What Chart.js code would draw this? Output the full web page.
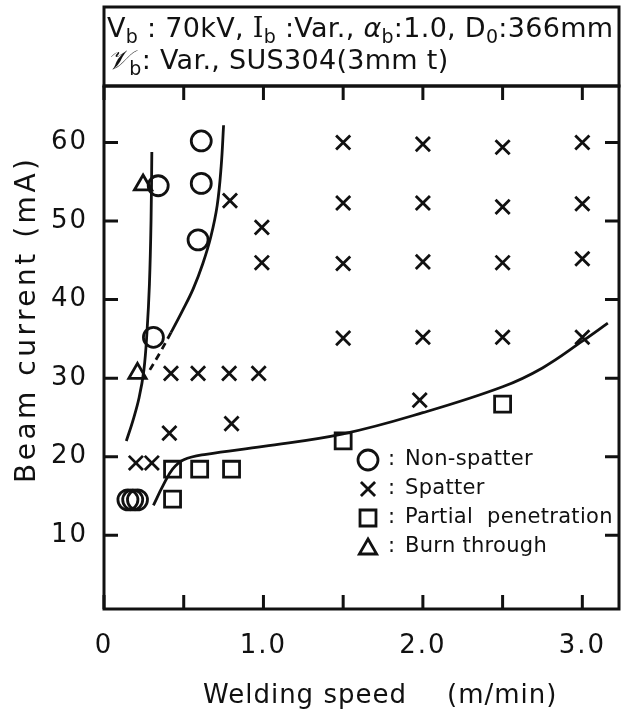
<!DOCTYPE html>
<html>
<head>
<meta charset="utf-8">
<script src="https://cdn.jsdelivr.net/npm/chart.js@4.4.1/dist/chart.umd.min.js"></script>
<style>
  html, body { margin: 0; background: #fff; overflow: hidden; }
  #wrap { width: 628px; height: 711px; }
  canvas { display: block; }
</style>
</head>
<body>
<div id="wrap"><canvas id="weldChart" width="628" height="711"></canvas></div>
<script>
// values (welding speed m/min, beam current mA)

const nonSpatterX = [0.61, 0.34, 0.61, 0.59, 0.31, 0.15, 0.18, 0.21];
const nonSpatterY = [60.2, 54.5, 54.8, 47.6, 35.2, 14.5, 14.5, 14.5];

const spatterX = [1.5, 2.0, 2.5, 3.0, 0.79, 1.5, 2.0, 2.5, 3.0, 0.99, 0.99, 1.5, 2.0, 2.5, 3.0,
                  1.5, 2.0, 2.5, 3.0, 0.42, 0.59, 0.785, 0.97, 1.98, 0.8, 0.41, 0.2, 0.3];
const spatterY = [60, 59.8, 59.4, 60, 52.6, 52.3, 52.3, 51.8, 52.2, 49.2, 44.7, 44.6, 44.8, 44.7, 45.2,
                  35.1, 35.2, 35.2, 35.2, 30.6, 30.6, 30.6, 30.6, 27.2, 24.2, 23.0, 19.2, 19.2];

const partialX = [0.43, 0.6, 0.8, 0.43, 1.5, 2.5];
const partialY = [18.4, 18.4, 18.4, 14.6, 22.0, 26.7];

const burnX = [0.245, 0.21];
const burnY = [54.6, 30.6];

// boundary curves drawn in the figure
const leftCurveX = [0.30, 0.295, 0.285, 0.27, 0.25, 0.22, 0.18, 0.14];
const leftCurveY = [58.8, 50, 42, 36, 31, 27.5, 24.5, 22];

const midCurveX = [0.75, 0.735, 0.71, 0.67, 0.62, 0.56, 0.49, 0.42, 0.35, 0.28];
const midCurveY = [62.2, 57, 52, 48, 44.6, 41.4, 38.5, 35.8, 33.2, 30.8];

const lowCurveX = [0.31, 0.37, 0.43, 0.5, 0.64, 1.0, 1.5, 2.0, 2.5, 2.75, 3.0, 3.16];
const lowCurveY = [13.8, 16.3, 18.4, 19.6, 20.3, 21.3, 22.9, 25.6, 28.9, 31.3, 34.7, 37.0];

const xTickValues = [0, 0.5, 1.0, 1.5, 2.0, 2.5, 3.0];
const xLabelValues = [0, 1, 2, 3];
const xTickLabels = ['0', '1.0', '2.0', '3.0'];
const yTickValues = [10, 20, 30, 40, 50, 60];

const legendNames = ['Non-spatter', 'Spatter', 'Partial  penetration', 'Burn through'];

const ink = '#111';
const FONT = '"DejaVu Sans", sans-serif';

const pairs = (xs, ys) => xs.map((x, i) => ({ x: x, y: ys[i] }));

const markerStyles = [
  { pointStyle: 'circle', pointRadius: 10 },
  { pointStyle: 'crossRot', pointRadius: 10 },
  { pointStyle: 'rect', pointRadius: 11.3 },
  { pointStyle: 'triangle', pointRadius: 10 }
];

function pointSet(xs, ys, k) {
  return {
    type: 'scatter',
    data: pairs(xs, ys),
    showLine: false,
    pointStyle: markerStyles[k].pointStyle,
    pointRadius: markerStyles[k].pointRadius,
    pointBorderWidth: 2.8,
    pointBorderColor: ink,
    pointBackgroundColor: 'rgba(0,0,0,0)'
  };
}

function curveSet(xs, ys, dashBelow) {
  return {
    type: 'line',
    data: pairs(xs, ys),
    showLine: true,
    pointRadius: 0,
    borderColor: ink,
    borderWidth: 2.8,
    tension: 0.4,
    fill: false,
    segment: {
      borderDash: ctx => (dashBelow && ctx.p0.parsed.y < dashBelow) ? [7, 5] : undefined
    }
  };
}

// draws text made of pieces, some as subscripts
function drawRich(ctx, x, y, pieces, size) {
  pieces.forEach(p => {
    let font = size + 'px ' + FONT;
    let dy = 0;
    if (p[1] === 'sub') { font = Math.round(size * 0.7) + 'px ' + FONT; dy = 6; }
    if (p[1] === 'serif') font = size + 'px "DejaVu Serif", serif';
    if (p[1] === 'italic') font = 'italic ' + size + 'px ' + FONT;
    ctx.font = font;
    ctx.fillText(p[0], x, y + dy);
    x += ctx.measureText(p[0]).width;
  });
}

const framePlugin = {
  id: 'frame',
  beforeDraw(chart) {
    chart.ctx.letterSpacing = '2px';
  },
  beforeDatasetsDraw(chart) {
    const { ctx, chartArea: a, scales } = chart;
    ctx.save();
    ctx.letterSpacing = '0px';
    ctx.strokeStyle = ink;
    ctx.lineWidth = 3;
    ctx.lineCap = 'butt';
    // plot frame + header box
    ctx.strokeRect(a.left, a.top, a.right - a.left, a.bottom - a.top);
    ctx.strokeRect(a.left, 7, a.right - a.left, a.top - 7);
    // inward ticks
    const tl = 14;
    ctx.beginPath();
    xTickValues.forEach(v => {
      const px = scales.x.getPixelForValue(v);
      ctx.moveTo(px, a.bottom); ctx.lineTo(px, a.bottom - tl);
      ctx.moveTo(px, a.top); ctx.lineTo(px, a.top + tl);
    });
    yTickValues.forEach(v => {
      const py = scales.y.getPixelForValue(v);
      ctx.moveTo(a.left, py); ctx.lineTo(a.left + tl, py);
      ctx.moveTo(a.right, py); ctx.lineTo(a.right - tl, py);
    });
    ctx.stroke();
    ctx.restore();
  },
  afterDraw(chart) {
    const { ctx } = chart;
    ctx.save();
    ctx.fillStyle = ink;
    ctx.textBaseline = 'alphabetic';
    ctx.textAlign = 'left';

    // header
    ctx.letterSpacing = '0.3px';
    drawRich(ctx, 107, 37, [['V'], ['b', 'sub'], [' : 70kV, '], ['I', 'serif'], ['b', 'sub'],
      [' :Var., '], ['α', 'italic'], ['b', 'sub'], [':1.0, '], ['D'], ['0', 'sub'], [':366mm']], 27);
    drawRich(ctx, 107, 69, [['𝒱', 'italic'], ['b', 'sub'], [': Var., SUS304(3mm t)']], 27);

    // axis titles
    ctx.letterSpacing = '1px';
    ctx.font = '26px ' + FONT;
    ctx.fillText('Welding speed', 203, 703);
    ctx.fillText('(m/min)', 447, 703);

    ctx.save();
    ctx.translate(35, 483);
    ctx.rotate(-Math.PI / 2);
    ctx.letterSpacing = '3.5px';
    ctx.font = '28px ' + FONT;
    ctx.fillText('Beam current (mA)', 0, 0);
    ctx.restore();

    // legend inside the plot
    const rows = [460, 489, 518, 547];
    ctx.letterSpacing = '0.3px';
    ctx.font = '21px ' + FONT;
    ctx.textBaseline = 'middle';
    rows.forEach((ry, k) => {
      ctx.save();
      ctx.strokeStyle = ink;
      ctx.fillStyle = 'rgba(0,0,0,0)';
      ctx.lineWidth = 2.8;
      Chart.helpers.drawPoint(ctx, {
        pointStyle: markerStyles[k].pointStyle,
        radius: markerStyles[k].pointRadius,
        rotation: 0,
        borderWidth: 2.8
      }, 368, ry + (k === 3 ? 2 : 0));
      ctx.restore();
      ctx.fillText(':', 388, ry);
      ctx.fillText(legendNames[k], 405, ry);
    });
    ctx.restore();
    ctx.letterSpacing = '0px';
  }
};

const ctx = document.getElementById('weldChart');

new Chart(ctx, {
  data: {
    datasets: [
      pointSet(nonSpatterX, nonSpatterY, 0),
      pointSet(spatterX, spatterY, 1),
      pointSet(partialX, partialY, 2),
      pointSet(burnX, burnY, 3),
      curveSet(leftCurveX, leftCurveY),
      curveSet(midCurveX, midCurveY, 37.9),
      curveSet(lowCurveX, lowCurveY)
    ]
  },
  options: {
    responsive: false,
    animation: false,
    layout: { autoPadding: false, padding: { top: 86, right: 9, left: 0, bottom: 0 } },
    plugins: {
      legend: { display: false },
      tooltip: { enabled: false }
    },
    scales: {
      x: {
        type: 'linear',
        min: 0,
        max: 3.23,
        afterBuildTicks: s => { s.ticks = xTickValues.map(v => ({ value: v })); },
        afterFit: s => { s.height = 102; s.paddingLeft = 0; s.paddingRight = 0; },
        grid: { display: false, drawTicks: false },
        border: { display: false },
        ticks: {
          autoSkip: false,
          maxRotation: 0,
          padding: 22,
          color: ink,
          font: { family: FONT, size: 26 },
          callback: v => {
            const i = xLabelValues.indexOf(v);
            return i >= 0 ? xTickLabels[i] : '';
          }
        }
      },
      y: {
        type: 'linear',
        min: 0.6,
        max: 67.2,
        afterBuildTicks: s => { s.ticks = yTickValues.map(v => ({ value: v })); },
        afterFit: s => { s.width = 104; s.paddingTop = 0; s.paddingBottom = 0; },
        grid: { display: false, drawTicks: false },
        border: { display: false },
        ticks: {
          padding: 16,
          color: ink,
          font: { family: FONT, size: 26 },
          callback: v => String(v)
        }
      }
    }
  },
  plugins: [framePlugin]
});
</script>
</body>
</html>
